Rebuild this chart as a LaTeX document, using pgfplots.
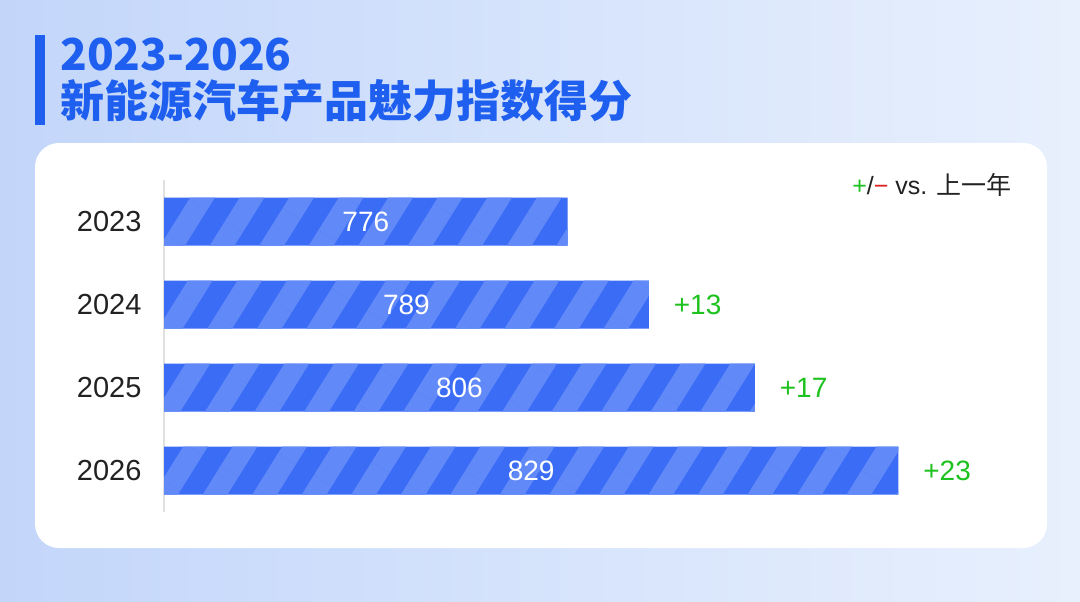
\documentclass[border=0pt]{standalone}
\usepackage{fontspec}
\setmainfont{Liberation Sans}
\newfontfamily\cjk{Noto Sans CJK SC}
\usepackage{pgfplots}
\pgfplotsset{compat=1.18}
\usetikzlibrary{patterns.meta}
\definecolor{bgL}{HTML}{C3D6FA}
\definecolor{bgR}{HTML}{E8F0FD}
\definecolor{titleblue}{HTML}{1F5FF0}
\definecolor{barD}{HTML}{3A6CF6}
\definecolor{barL}{HTML}{6189F7}
\definecolor{plusgreen}{HTML}{1EC21E}
\definecolor{minusred}{HTML}{E02020}
\definecolor{txt}{HTML}{222222}
\begin{document}
\begin{tikzpicture}
\shade[left color=bgL, right color=bgR] (0,0) rectangle (540pt,300.5pt);
\path[use as bounding box] (0,0) rectangle (540pt,300.5pt);
\fill[white, rounded corners=12pt] (17.5pt,26.5pt) rectangle (523.5pt,229pt);
\fill[titleblue] (17.5pt,238pt) rectangle (22.5pt,283pt);
\node[anchor=base west, inner sep=0, text=titleblue, font=\cjk\bfseries\fontsize{22}{22}\selectfont] at (30pt,265pt) {2023-2026};
\node[anchor=base west, inner sep=0, text=titleblue, font=\cjk\bfseries\fontsize{22}{22}\selectfont] at (30pt,241.5pt) {新能源汽车产品魅力指数得分};
\node[anchor=east, inner sep=0, text=txt, font=\fontsize{12.5}{12.5}\selectfont] at (506pt,208pt) {\textcolor{plusgreen}{+}/\textcolor{minusred}{−} vs. {\cjk 上一年}};
\begin{axis}[
  at={(82pt,44.5pt)}, anchor=south west,
  scale only axis, width=418pt, height=166pt,
  xmin=711.3, xmax=845.3, ymin=-0.5, ymax=3.5,
  y dir=reverse,
  xbar, bar width=24pt,
  hide x axis,
  axis y line*=left,
  y axis line style={draw=black!12, line width=0.6pt},
  ytick={0,1,2,3}, yticklabels={2023,2024,2025,2026},
  ytick style={draw=none},
  yticklabel style={font=\fontsize{14.5}{14.5}\selectfont, text=txt, xshift=-3.5pt},
  clip mode=individual,
]
\addplot[fill=barD, draw=none, postaction={pattern={Lines[angle=58,distance=21pt,line width=10.5pt]}, pattern color=barL}] coordinates {(776,0) (789,1) (806,2) (829,3)};
\node[text=white, font=\fontsize{14}{14}\selectfont] at (axis cs:743.65,0) {776};
\node[text=white, font=\fontsize{14}{14}\selectfont] at (axis cs:750.15,1) {789};
\node[text=white, font=\fontsize{14}{14}\selectfont] at (axis cs:758.65,2) {806};
\node[text=white, font=\fontsize{14}{14}\selectfont] at (axis cs:770.15,3) {829};
\node[anchor=west, text=plusgreen, font=\fontsize{14}{14}\selectfont, xshift=9pt] at (axis cs:789,1) {+13};
\node[anchor=west, text=plusgreen, font=\fontsize{14}{14}\selectfont, xshift=9pt] at (axis cs:806,2) {+17};
\node[anchor=west, text=plusgreen, font=\fontsize{14}{14}\selectfont, xshift=9pt] at (axis cs:829,3) {+23};
\end{axis}
\end{tikzpicture}
\end{document}
